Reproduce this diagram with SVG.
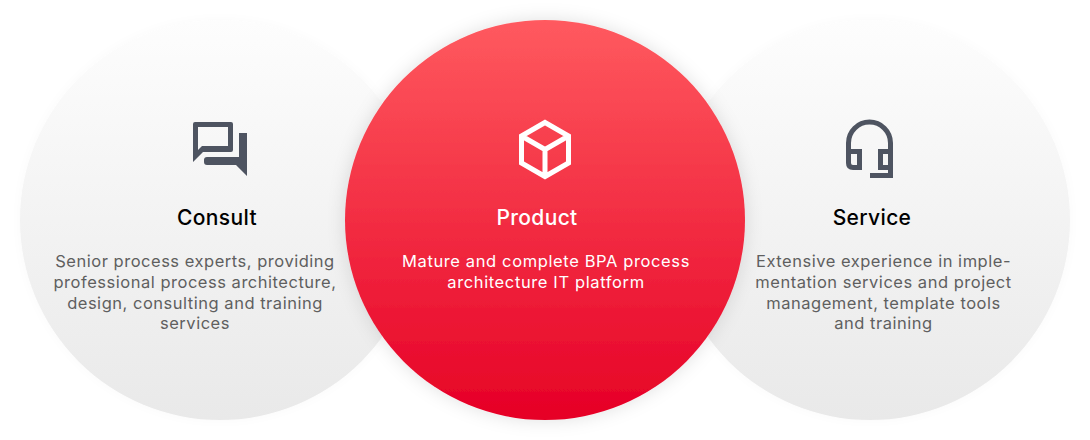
<svg xmlns="http://www.w3.org/2000/svg" width="1090" height="440" viewBox="0 0 1090 440">
<defs>
<linearGradient id="g" x1="0" y1="0" x2="0" y2="1"><stop offset="0" stop-color="#fdfdfd"/><stop offset="1" stop-color="#e9e9e9"/></linearGradient>
<linearGradient id="r" x1="0" y1="0" x2="0" y2="1"><stop offset="0" stop-color="#ff5a5f"/><stop offset="1" stop-color="#e60026"/></linearGradient>
<filter id="s" x="-20%" y="-20%" width="140%" height="140%"><feDropShadow dx="0" dy="0" stdDeviation="9" flood-color="#000" flood-opacity=".12"/></filter>
<filter id="s2" x="-20%" y="-20%" width="140%" height="140%"><feDropShadow dx="0" dy="0" stdDeviation="5" flood-color="#000" flood-opacity=".025"/></filter>
</defs>
<style>
text{font-family:"Inter","Noto Sans","Liberation Sans",sans-serif;text-anchor:middle}
.t{font-size:21px;font-weight:500;fill:#000;letter-spacing:.35px}
.d{font-size:16.500px;fill:#5f5f5f;letter-spacing:.52px}
.i{fill:none;stroke:#4e5461;stroke-width:5}
</style>
<rect width="1090" height="440" fill="#fff"/>
<g id="consult">
<circle cx="220" cy="220" r="200" fill="url(#g)" filter="url(#s2)"/>
<path fill="#4e5461" fill-rule="evenodd" d="M195 122H231Q233 122 233 124V150Q233 152 231 152H203L193 162V124Q193 122 195 122ZM198 127V150L202 146H228V127Z"/>
<path d="M239 133H247V176L236 165H207Q204 165 204 162V160Q204 157 207 157H239Z" fill="#4e5461"/>
<text class="t" x="217" y="225">Consult</text>
<text class="d" x="195" y="267">Senior process experts, providing</text>
<text class="d" x="195" y="288">professional process architecture,</text>
<text class="d" x="195" y="309">design, consulting and training</text>
<text class="d" x="195" y="329">services</text>
</g>
<g id="service">
<circle cx="870" cy="220" r="200" fill="url(#g)" filter="url(#s2)"/>
<path class="i" d="M848.500 163V143A21 21 0 0 1 890.500 143V175.500H870M848.500 151.500H859.500V167.500H853Q848.500 167.500 848.500 163M890.500 151.500H880.500V167.500H890.500"/>
<text class="t" x="872" y="225">Service</text>
<text class="d" x="883.500" y="267">Extensive experience in imple-</text>
<text class="d" x="883.500" y="288">mentation services and project</text>
<text class="d" x="883.500" y="309">management, template tools</text>
<text class="d" x="883.500" y="329">and training</text>
</g>
<g id="product">
<circle cx="545" cy="220" r="200" fill="url(#r)" filter="url(#s)"/>
<path d="M545 122.500L568.500 136V163L545 176.500L521.500 163V136ZM521.500 136L545 149.500L568.500 136M545 149.500V176.500" fill="none" stroke="#fff" stroke-width="5"/>
<text class="t" x="537" y="225" style="fill:#fff">Product</text>
<text class="d" x="546" y="267" style="fill:#fff;letter-spacing:.62px">Mature and complete BPA process</text>
<text class="d" x="546" y="288" style="fill:#fff;letter-spacing:.62px">architecture IT platform</text>
</g>
<g id="connectors"></g>
</svg>
